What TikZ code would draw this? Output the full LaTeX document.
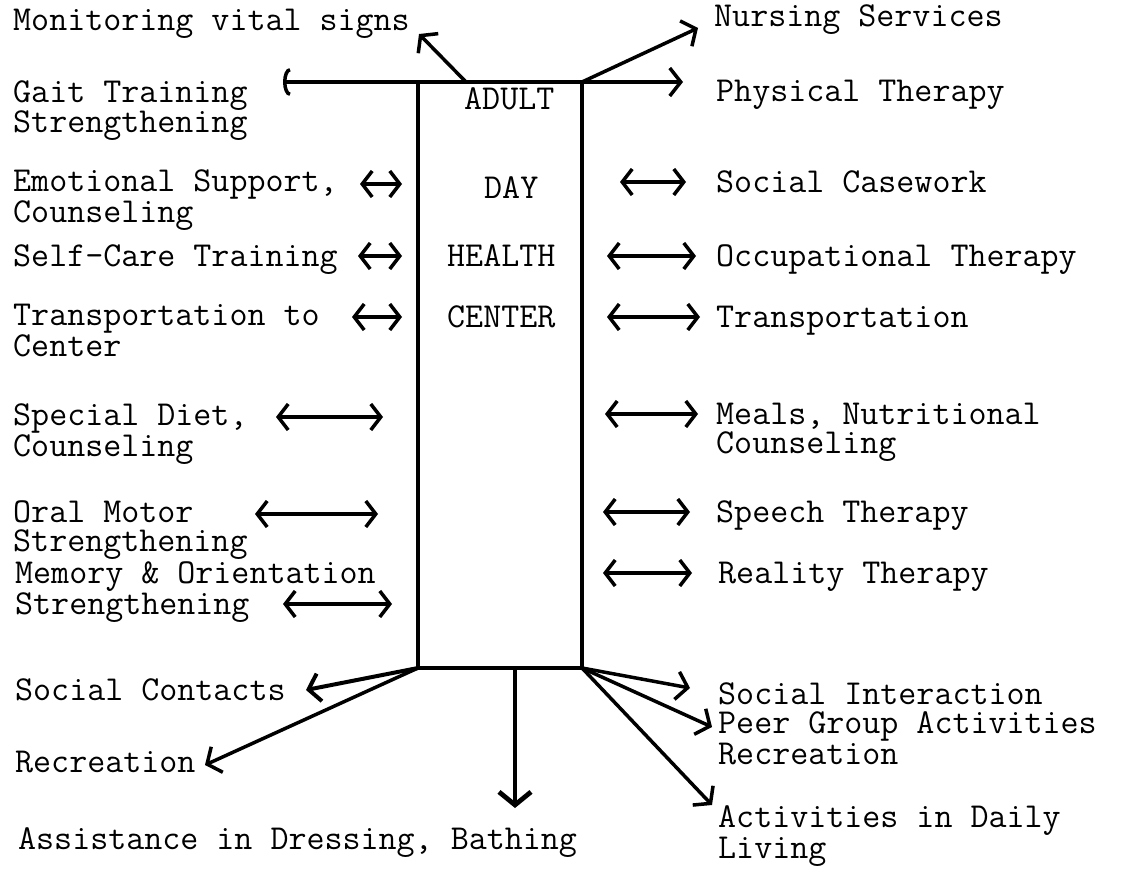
\documentclass[tikz,border=0pt]{standalone}
\usetikzlibrary{arrows.meta}
\begin{document}
\begin{tikzpicture}[x=1pt,y=-1pt,
  % multi-line labels are anchored on the baseline of their last line
  lbl/.style={anchor=base west, inner sep=0pt, align=left,
    font=\fontsize{35}{29}\selectfont\ttfamily},
  link/.style={line width=3.5pt, line cap=round},
  both/.style={link, arrows={Straight Barb[length=10pt,width=26pt]-Straight Barb[length=10pt,width=26pt]}},
  one/.style={link, arrows={-Straight Barb[length=11pt,width=28pt]}},
  heavy/.style={line width=4.8pt, arrows={-Straight Barb[length=13pt,width=32pt]}}]
\useasboundingbox (0,0) rectangle (1124,872);

% central column
\node[draw, line width=3.6pt, minimum width=164pt, minimum height=586pt, inner sep=0pt] (box) at (500,375) {};
\node[lbl] (adult)  at (464,110) {ADULT};
\node[lbl] (day)    at (484,198) {DAY};
\node[lbl] (health) at (447,266) {HEALTH};
\node[lbl] (centr)  at (447,327) {CENTER};

% left-hand services
\node[lbl] (monit) at (13,31)  {Monitoring vital signs};
\node[lbl] (gait)  at (13,133) {Gait Training\\Strengthening};
\node[lbl] (emot)  at (13,222) {Emotional Support,\\Counseling};
\node[lbl] (self)  at (13,266) {Self-Care Training};
\node[lbl] (trl)   at (13,356) {Transportation to\\Center};
\node[lbl] (diet)  at (13,456) {Special Diet,\\Counseling};
\node[lbl] (oral)  at (13,551) {Oral Motor\\Strengthening};
\node[lbl] (memo)  at (15,614) {Memory \& Orientation\\Strengthening};
\node[lbl] (socc)  at (15,700) {Social Contacts};
\node[lbl] (recl)  at (15,772) {Recreation};
\node[lbl] (assi)  at (18,849) {Assistance in Dressing, Bathing};

% right-hand services
\node[lbl] (nurs)  at (714,27)  {Nursing Services};
\node[lbl] (phys)  at (716,102) {Physical Therapy};
\node[lbl] (case)  at (716,192) {Social Casework};
\node[lbl] (occu)  at (716,266) {Occupational Therapy};
\node[lbl] (trr)   at (716,327) {Transportation};
\node[lbl] (meal)  at (716,453) {Meals, Nutritional\\Counseling};
\node[lbl] (spee)  at (716,522) {Speech Therapy};
\node[lbl] (real)  at (718,583) {Reality Therapy};
\node[lbl] (soci)  at (718,764) {Social Interaction\\Peer Group Activities\\Recreation};
\node[lbl] (adl)   at (718,858) {Activities in Daily\\Living};

% arrow ends
\coordinate (gaitEnd) at (283,82);
\coordinate (physEnd) at (683,82);
\coordinate (monFrom) at (466,82);
\coordinate (monEnd)  at (419,34);
\coordinate (nurEnd)  at (698,28);
\coordinate (tr) at (582,82);
\coordinate (bl) at (418,668);
\coordinate (br) at (582,668);
\coordinate (bm) at (515,668);

% top edge carried out to both sides
\draw[link, arrows={Arc Barb[length=7pt,width=28pt]-Straight Barb[length=11pt,width=28pt]}] (gaitEnd) -- (physEnd);
\draw[one] (monFrom) -- (monEnd);
\draw[one] (tr) -- (nurEnd);

% two-way links, left
\coordinate (e1) at (360,184); \coordinate (e2) at (402,184);
\coordinate (s1) at (358,256); \coordinate (s2) at (402,256);
\coordinate (t1) at (352,317); \coordinate (t2) at (402,317);
\coordinate (d1) at (276,417); \coordinate (d2) at (383,417);
\coordinate (o1) at (255,514); \coordinate (o2) at (378,514);
\coordinate (m1) at (283,604); \coordinate (m2) at (392,604);
\draw[both] (e1) -- (e2);
\draw[both] (s1) -- (s2);
\draw[both] (t1) -- (t2);
\draw[both] (d1) -- (d2);
\draw[both] (o1) -- (o2);
\draw[both] (m1) -- (m2);

% two-way links, right
\coordinate (c1) at (620,182); \coordinate (c2) at (686,182);
\coordinate (p1) at (607,256); \coordinate (p2) at (696,256);
\coordinate (r1) at (607,317); \coordinate (r2) at (700,317);
\coordinate (n1) at (605,414); \coordinate (n2) at (698,414);
\coordinate (h1) at (603,512); \coordinate (h2) at (690,512);
\coordinate (y1) at (603,573); \coordinate (y2) at (692,573);
\draw[both] (c1) -- (c2);
\draw[both] (p1) -- (p2);
\draw[both] (r1) -- (r2);
\draw[both] (n1) -- (n2);
\draw[both] (h1) -- (h2);
\draw[both] (y1) -- (y2);

% bottom fan
\coordinate (sccEnd) at (306,690);
\coordinate (rclEnd) at (205,765);
\coordinate (dwnEnd) at (515,808);
\coordinate (siEnd)  at (690,688);
\coordinate (pgEnd)  at (712,727);
\coordinate (adlEnd) at (712,805);
\draw[one, line width=4pt] (bl) -- (sccEnd);
\draw[one] (bl) -- (rclEnd);
\draw[heavy] (bm) -- (dwnEnd);
\draw[one] (br) -- (siEnd);
\draw[one] (br) -- (pgEnd);
\draw[one] (br) -- (adlEnd);
\end{tikzpicture}
\end{document}
